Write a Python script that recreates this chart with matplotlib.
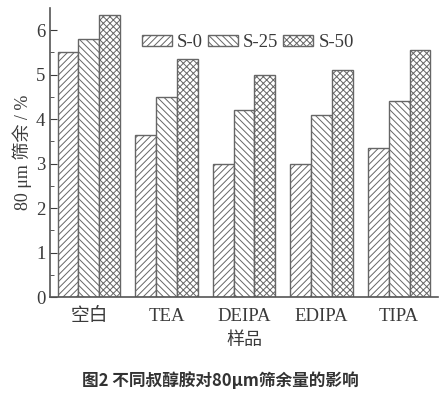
import matplotlib.pyplot as plt
import numpy as np

categories = ["空白", "TEA", "DEIPA", "EDIPA", "TIPA"]
series_names = ["S-0", "S-25", "S-50"]
s0 = [5.51, 3.64, 3.00, 3.00, 3.34]
s25 = [5.80, 4.49, 4.20, 4.09, 4.40]
s50 = [6.34, 5.36, 4.99, 5.10, 5.55]

plt.rcParams["font.family"] = ["Liberation Serif", "Noto Sans CJK SC"]
plt.rcParams["hatch.linewidth"] = 0.7
plt.rcParams["hatch.color"] = "#777777"

fig = plt.figure(figsize=(4.4, 3.94), dpi=100)
ax = fig.add_axes([0.114, 0.246, 0.881, 0.734])

x = np.arange(len(categories))
w = 0.27
hatches = ["/////", "\\\\\\\\\\", "xxxxx"]
for i, (name, vals) in enumerate(zip(series_names, [s0, s25, s50])):
    ax.bar(x + (i - 1) * w, vals, width=w, color="white", edgecolor="#666666",
           linewidth=1.0, hatch=hatches[i], label=name)

ax.set_xlim(-0.5, 4.5)
ax.set_ylim(0, 6.5)
ax.set_yticks(range(0, 7))
ax.set_yticks(np.arange(0.5, 6.5, 1.0), minor=True)
ax.set_xticks(x)
ax.set_xticklabels(categories, fontsize=13.5)
ax.tick_params(axis="y", which="both", direction="in", labelsize=13.5, colors="#3a3a3a")
ax.tick_params(axis="y", which="major", length=5)
ax.tick_params(axis="y", which="minor", length=3)
ax.tick_params(axis="x", length=0, pad=8, colors="#3a3a3a")
for s in ["top", "right"]:
    ax.spines[s].set_visible(False)
for s in ["left", "bottom"]:
    ax.spines[s].set_color("#555555")
    ax.spines[s].set_linewidth(1.2)

ax.set_ylabel("80 μm 筛余 / %", fontsize=13, color="#3a3a3a", labelpad=3)
ax.set_xlabel("样品", fontsize=13, color="#3a3a3a", labelpad=5)

leg = ax.legend(ncol=3, loc="center left", bbox_to_anchor=(0.217, 0.88), frameon=False,
                fontsize=13.5, handlelength=1.6, handleheight=0.6, columnspacing=0.27,
                handletextpad=0.27, borderaxespad=0)
for t in leg.get_texts():
    t.set_color("#3a3a3a")

fig.text(0.5, 0.01, "图2 不同叔醇胺对80μm筛余量的影响", ha="center", va="bottom",
         fontsize=12, fontweight="bold", family=["Noto Sans CJK SC", "DejaVu Sans"],
         color="#333333")

fig.savefig("out.png", dpi=100)
